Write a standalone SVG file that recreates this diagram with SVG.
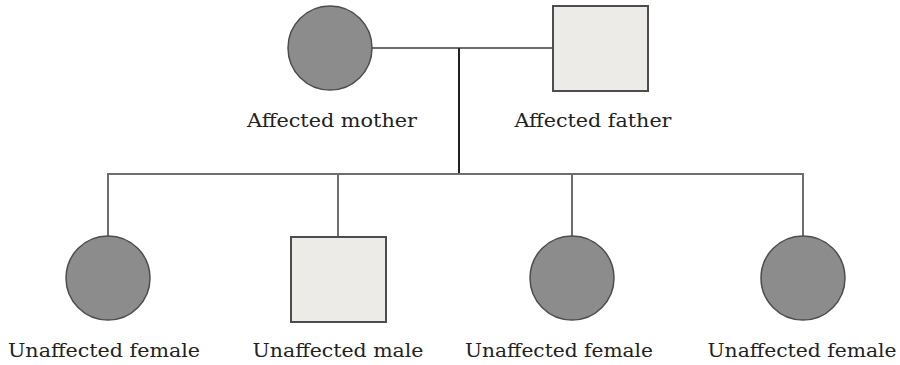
<svg xmlns="http://www.w3.org/2000/svg" width="900" height="365" viewBox="0 0 900 365">
<style>
.f{fill:#8c8c8c;stroke:#4d4d4d;stroke-width:1.5}
.m{fill:#ecebe8;stroke:#4d4d4d;stroke-width:2}
.l{stroke:#6e6e6e;stroke-width:2;fill:none}
.t{font-family:"DejaVu Serif","Liberation Serif",serif;font-size:19px;fill:#222;text-anchor:middle}
</style>
<rect width="900" height="365" fill="#fff"/>
<g id="connectors">
<line class="l" x1="372" y1="48" x2="553" y2="48"/>
<line class="l" x1="459" y1="48" x2="459" y2="174" style="stroke:#222"/>
<line class="l" x1="108" y1="174" x2="803" y2="174"/>
<line class="l" x1="108" y1="173" x2="108" y2="236"/>
<line class="l" x1="338" y1="173" x2="338" y2="237"/>
<line class="l" x1="572" y1="173" x2="572" y2="236"/>
<line class="l" x1="803" y1="173" x2="803" y2="236"/>
</g>
<g id="mother"><circle class="f" cx="330" cy="48" r="42"/><text class="t" x="332" y="127" textLength="170" lengthAdjust="spacingAndGlyphs">Affected mother</text></g>
<g id="father"><rect class="m" x="553" y="6" width="95" height="85"/><text class="t" x="593" y="127" textLength="157" lengthAdjust="spacingAndGlyphs">Affected father</text></g>
<g id="child1"><circle class="f" cx="108" cy="278" r="42"/><text class="t" x="104" y="357" textLength="192" lengthAdjust="spacingAndGlyphs">Unaffected female</text></g>
<g id="child2"><rect class="m" x="291" y="237" width="95" height="85"/><text class="t" x="338" y="357" textLength="171" lengthAdjust="spacingAndGlyphs">Unaffected male</text></g>
<g id="child3"><circle class="f" cx="572" cy="278" r="42"/><text class="t" x="559" y="357" textLength="188" lengthAdjust="spacingAndGlyphs">Unaffected female</text></g>
<g id="child4"><circle class="f" cx="803" cy="278" r="42"/><text class="t" x="802" y="357" textLength="189" lengthAdjust="spacingAndGlyphs">Unaffected female</text></g>
</svg>
